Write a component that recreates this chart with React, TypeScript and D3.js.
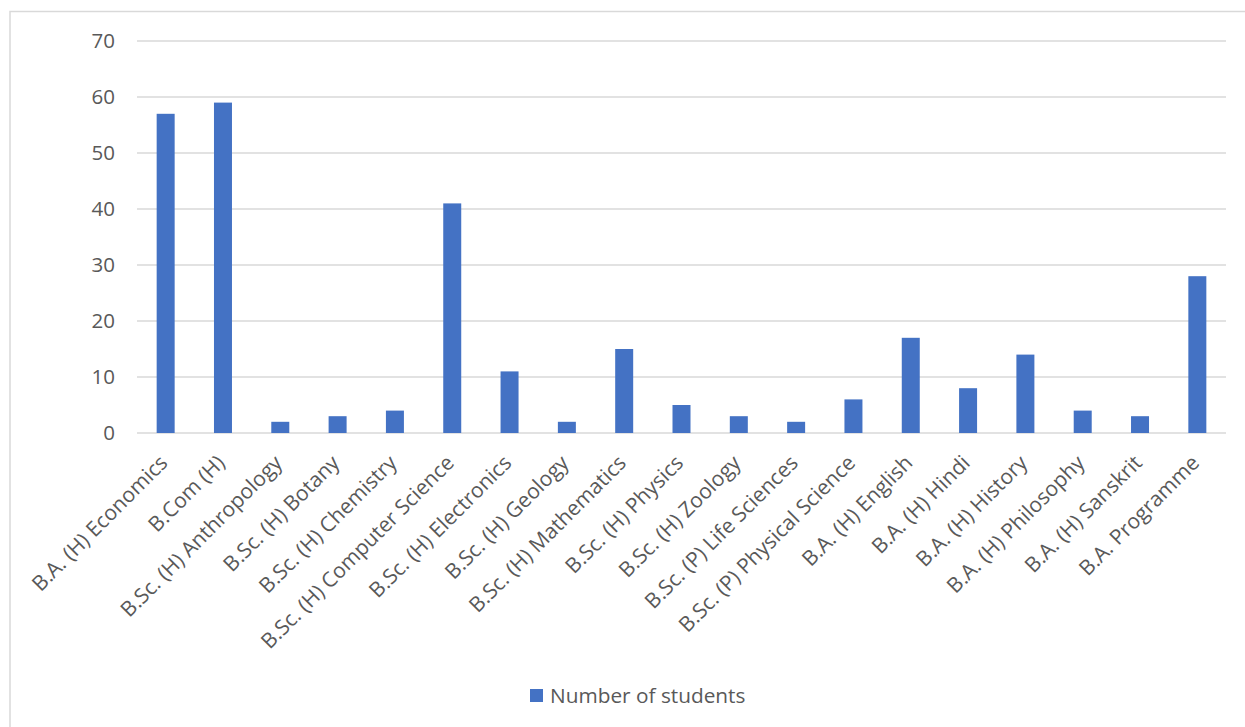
import React from "react";
import * as d3 from "d3";

const categories = [
  "B.A. (H) Economics",
  "B.Com (H)",
  "B.Sc. (H) Anthropology",
  "B.Sc. (H) Botany",
  "B.Sc. (H) Chemistry",
  "B.Sc. (H) Computer Science",
  "B.Sc. (H) Electronics",
  "B.Sc. (H) Geology",
  "B.Sc. (H) Mathematics",
  "B.Sc. (H) Physics",
  "B.Sc. (H) Zoology",
  "B.Sc. (P) Life Sciences",
  "B.Sc. (P) Physical Science",
  "B.A. (H) English",
  "B.A. (H) Hindi",
  "B.A. (H) History",
  "B.A. (H) Philosophy",
  "B.A. (H) Sanskrit",
  "B.A. Programme",
];
const students = [57, 59, 2, 3, 4, 41, 11, 2, 15, 5, 3, 2, 6, 17, 8, 14, 4, 3, 28];
const yTicks = [0, 10, 20, 30, 40, 50, 60, 70];
const seriesName = "Number of students";

const W = 1245;
const H = 727;
const FONT = "'Open Sans', sans-serif";
const TEXT = "#595959";
const BAR = "#4472C4";

export default function App() {
  const x = d3.scaleBand<string>().domain(categories).range([137, 1226]).paddingInner(0.686).paddingOuter(0.343);
  const y = d3.scaleLinear().domain([0, 70]).range([433, 41]);

  return (
    <svg width={W} height={H} style={{ position: "absolute", left: 0, top: 0, background: "#fff" }}>
      <rect x={10} y={11.5} width={W + 10} height={H + 10} fill="#fff" stroke="#d9d9d9" strokeWidth={1.5} />
      {yTicks.map((t) => (
        <g key={t}>
          <line x1={137} x2={1226} y1={y(t)} y2={y(t)} stroke="#d9d9d9" strokeWidth={1.3} />
          <text x={115} y={y(t)} dy="0.36em" textAnchor="end" fontFamily={FONT} fontSize={20.5} fill={TEXT}>
            {t}
          </text>
        </g>
      ))}
      {categories.map((c, i) => (
        <rect key={c} x={x(c)} y={y(students[i])} width={x.bandwidth()} height={y(0) - y(students[i])} fill={BAR} />
      ))}
      {categories.map((c) => {
        const cx = (x(c) as number) + x.bandwidth() / 2 - 2;
        const cy = 459;
        return (
          <text
            key={c}
            x={cx}
            y={cy}
            transform={`rotate(-45,${cx},${cy})`}
            textAnchor="end"
            dy="0.35em"
            fontFamily={FONT}
            fontSize={21}
            fill={TEXT}
          >
            {c}
          </text>
        );
      })}
      <rect x={530} y={689} width={13} height={13} fill={BAR} />
      <text x={550} y={695.5} dy="0.36em" fontFamily={FONT} fontSize={20.8} fill={TEXT}>
        {seriesName}
      </text>
    </svg>
  );
}
